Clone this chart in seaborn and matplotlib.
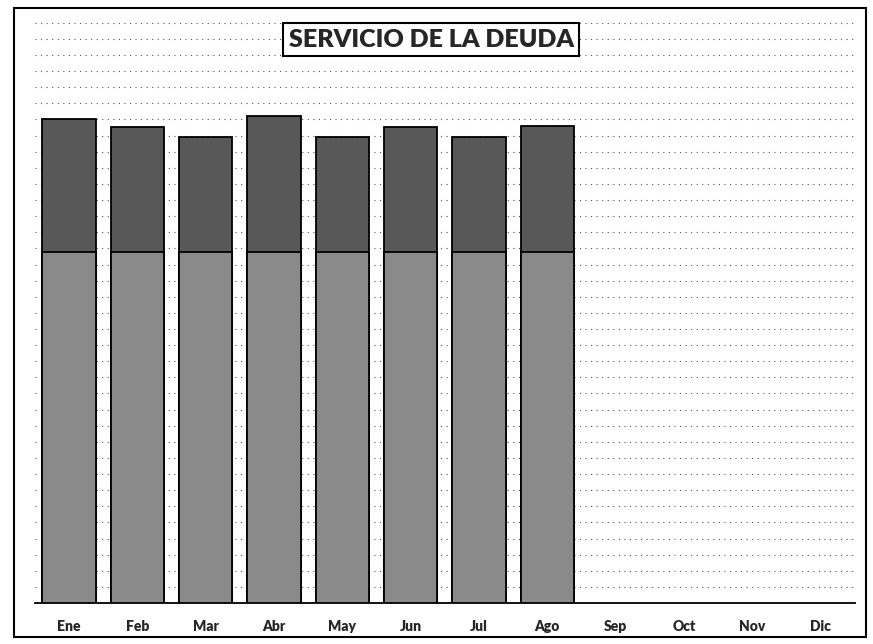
import matplotlib
matplotlib.use("Agg")
import matplotlib.pyplot as plt
import matplotlib.patches as mpatches
import seaborn as sns
import numpy as np
import pandas as pd

# data (arbitrary units, gridline every 5)
meses = ["Ene", "Feb", "Mar", "Abr", "May", "Jun", "Jul", "Ago", "Sep", "Oct", "Nov", "Dic"]
meses_con_dato = ["Ene", "Feb", "Mar", "Abr", "May", "Jun", "Jul", "Ago"]
parte_baja = [109, 109, 109, 109, 109, 109, 109, 109]
parte_alta = [41, 38.5, 35.7, 42, 35.4, 38.5, 35.4, 39]

total = [a + b for a, b in zip(parte_baja, parte_alta)]
df = pd.DataFrame({"mes": meses_con_dato, "baja": parte_baja, "total": total})

sns.set_style("white")
plt.rcParams['font.family'] = ['Lato', 'DejaVu Sans']

fig = plt.figure(figsize=(8.73, 6.44), dpi=100)
ax = fig.add_axes([0.040, 0.0637, 0.939, 0.901])

# dotted background lines like the scan
for yv in np.arange(5, 181, 5):
    ax.axhline(yv, color="#555555", lw=0.8, ls=(0, (1, 4)), zorder=0)

sns.barplot(data=df, x="mes", y="total", order=meses, color="#585858",
            saturation=1, width=0.78, edgecolor="black", linewidth=1.3, ax=ax, zorder=2)
sns.barplot(data=df, x="mes", y="baja", order=meses, color="#8a8a8a",
            saturation=1, width=0.78, edgecolor="black", linewidth=1.3, ax=ax, zorder=3)

ax.set_xlim(-0.5, 11.5)
ax.set_ylim(0, 180)
ax.set_xlabel("")
ax.set_ylabel("")
ax.set_yticks([])
for s in ["left", "right", "top"]:
    ax.spines[s].set_visible(False)
ax.spines["bottom"].set_color("black")
ax.spines["bottom"].set_linewidth(1.3)
ax.set_xticks(np.arange(12))
ax.set_xticklabels(meses, fontsize=10, fontweight="heavy")
ax.tick_params(axis="x", length=0, pad=12)
ax.set_xticks(np.arange(-0.5, 12, 1), minor=True)
ax.tick_params(axis="x", which="minor", length=4, width=1, color="black", direction="out")

# outer frame
fig.patches.append(mpatches.Rectangle((0.016, 0.011), 0.976, 0.977, transform=fig.transFigure,
                                      fill=False, edgecolor="black", linewidth=1.5))

fig.text(0.494, 0.938, "SERVICIO DE LA DEUDA", ha="center", va="center",
         fontsize=18, fontweight="heavy",
         bbox=dict(facecolor="white", edgecolor="black", linewidth=1.5, pad=4))

fig.savefig("out.png", dpi=100)
